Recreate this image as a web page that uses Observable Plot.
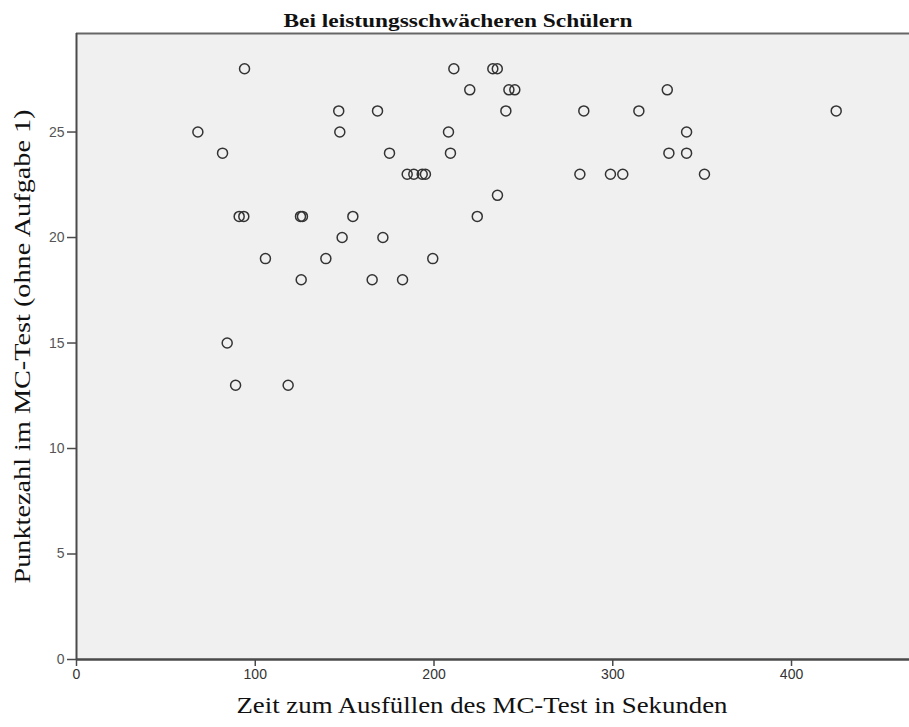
<!DOCTYPE html>
<html>
<head>
<meta charset="utf-8">
<script src="https://cdn.jsdelivr.net/npm/d3@7"></script>
<script src="https://cdn.jsdelivr.net/npm/@observablehq/plot@0.6"></script>
<style>
  body { margin: 0; background: #ffffff; }
</style>
</head>
<body>
<div id="chart"></div>
<script>
// Texts
const title = "Bei leistungsschwächeren Schülern";
const xLabel = "Zeit zum Ausfüllen des MC-Test in Sekunden";
const yLabel = "Punktezahl im MC-Test (ohne Aufgabe 1)";

// Tick values
const xTicks = [0, 100, 200, 300, 400];
const yTicks = [0, 5, 10, 15, 20, 25];

// Time to complete the test (seconds), one entry per student
const seconds = [
  94.0, 211.1, 232.9, 235.4,
  220.0, 241.9, 245.2, 330.5,
  146.7, 168.4, 240.2, 283.8, 314.6, 425.0,
  67.9, 147.3, 208.1, 341.3,
  81.7, 175.1, 209.2, 331.4, 341.3,
  185.0, 188.7, 193.4, 195.2, 281.6, 298.7, 305.6, 351.3,
  235.5,
  91.0, 93.6, 125.3, 126.4, 154.6, 224.2,
  148.6, 171.4,
  105.7, 139.5, 199.3,
  125.7, 165.4, 182.4,
  84.3,
  89.0, 118.4
];

// Score in the MC test (without task 1), same order as above
const scores = [
  28, 28, 28, 28,
  27, 27, 27, 27,
  26, 26, 26, 26, 26, 26,
  25, 25, 25, 25,
  24, 24, 24, 24, 24,
  23, 23, 23, 23, 23, 23, 23, 23,
  22,
  21, 21, 21, 21, 21, 21,
  20, 20,
  19, 19, 19,
  18, 18, 18,
  15,
  13, 13
];

const students = seconds.map((s, i) => ({seconds: s, score: scores[i]}));

const xMax = 466;
const yMax = 29.67;
const axisColor = "#4a4a4a";
const serif = "'Liberation Serif', 'Times New Roman', serif";
const narrow = "'Liberation Sans Narrow', 'Arial Narrow', 'Liberation Sans', sans-serif";

const chart = Plot.plot({
  width: 909,
  height: 727,
  marginLeft: 76,
  marginRight: 0,
  marginTop: 33,
  marginBottom: 68,
  x: {domain: [0, xMax]},
  y: {domain: [0, yMax]},
  style: {background: "#ffffff", overflow: "visible"},
  marks: [
    Plot.frame({fill: "#f0f0f0", stroke: null}),
    Plot.ruleY([yMax], {stroke: "#666666", strokeWidth: 2}),
    Plot.ruleX([0], {stroke: axisColor, strokeWidth: 2}),
    Plot.axisX({
      ticks: xTicks, tickSize: 7, tickPadding: 3, tickFormat: d => d,
      label: null, stroke: axisColor, strokeWidth: 1.5,
      fontSize: 14, fontFamily: narrow, fill: "#333333"
    }),
    Plot.axisY({
      ticks: yTicks, tickSize: 9, tickPadding: 3, tickFormat: d => d,
      label: null, stroke: axisColor, strokeWidth: 1.5,
      fontSize: 14, fontFamily: narrow, fill: "#555555"
    }),
    Plot.ruleY([0], {stroke: axisColor, strokeWidth: 2.5}),
    Plot.dot(students, {
      x: "seconds", y: "score", r: 5,
      stroke: "#333333", strokeWidth: 1.5, fill: "none"
    }),
    Plot.text([title], {
      frameAnchor: "top", textAnchor: "middle", lineAnchor: "middle",
      dx: -35, dy: -12,
      fontSize: 18.5, fontWeight: "bold", fontFamily: serif, fill: "#111111"
    }),
    Plot.text([xLabel], {
      frameAnchor: "bottom", textAnchor: "middle", lineAnchor: "middle",
      dx: -11, dy: 46,
      fontSize: 24, fontFamily: serif, fill: "#111111"
    }),
    Plot.text([yLabel], {
      frameAnchor: "left", textAnchor: "middle", lineAnchor: "middle",
      dx: -54, rotate: -90,
      fontSize: 24, fontFamily: serif, fill: "#111111"
    })
  ]
});

// Fit the three labels to their set widths
const widths = new Map([[title, 349], [xLabel, 491], [yLabel, 474]]);
d3.select(chart).selectAll("text").each(function () {
  const w = widths.get(this.textContent);
  if (w) {
    this.setAttribute("textLength", w);
    this.setAttribute("lengthAdjust", "spacingAndGlyphs");
  }
});

document.getElementById("chart").append(chart);
</script>
</body>
</html>
